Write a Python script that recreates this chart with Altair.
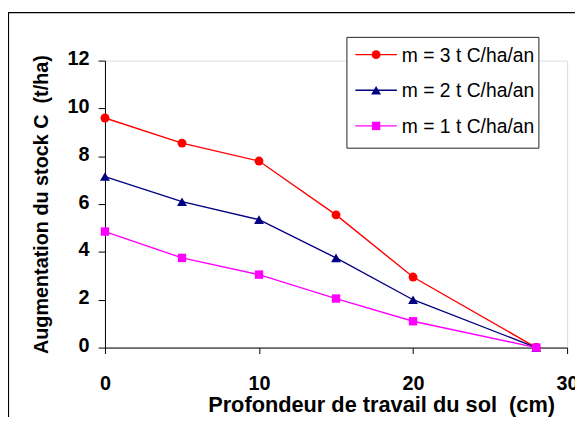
import altair as alt
import pandas as pd

# ---- data ----
depth = [0, 5, 10, 15, 20, 28]
m3 = [9.6, 8.55, 7.8, 5.55, 2.95, 0.0]
m2 = [7.15, 6.1, 5.35, 3.75, 2.0, 0.0]
m1 = [4.85, 3.75, 3.05, 2.05, 1.1, 0.0]
series = ["m = 3 t C/ha/an", "m = 2 t C/ha/an", "m = 1 t C/ha/an"]
colors = ["#FF0000", "#000080", "#FF00FF"]
marker_shapes = ["circle", "triangle-up", "square"]
marker_sizes = [81, 100, 72]
x_ticks = [0, 10, 20, 30]
y_ticks = [0, 2, 4, 6, 8, 10, 12]
x_title = "Profondeur de travail du sol\u00a0 (cm)"
y_title = "Augmentation du stock C\u00a0 (t/ha)"

rows = []
for name, vals in zip(series, [m3, m2, m1]):
    for d, v in zip(depth, vals):
        rows.append({"depth": d, "stock": v, "series": name})
df = pd.DataFrame(rows)

FONT = "Liberation Sans"
W, H = 467, 290

x_enc = alt.X(
    "depth:Q",
    scale=alt.Scale(domain=[0, 30], nice=False),
    axis=alt.Axis(
        values=x_ticks, title=x_title, grid=False,
        labelFont=FONT, labelFontSize=20, labelFontWeight="bold", labelColor="black",
        labelBaseline="alphabetic", labelPadding=36, labelFlush=False,
        tickSize=6, tickColor="black", domainColor="black",
        titleFont=FONT, titleFontSize=22, titleFontWeight="bold", titleColor="black",
        titleX=279, titleY=65, titleBaseline="alphabetic", titleAlign="center",
    ),
)
y_enc = alt.Y(
    "stock:Q",
    scale=alt.Scale(domain=[0, 12], nice=False),
    axis=alt.Axis(
        values=y_ticks, title=y_title, grid=False,
        labelFont=FONT, labelFontSize=20, labelFontWeight="bold", labelColor="black",
        labelPadding=9, labelOffset=-2, labelFlush=False,
        tickSize=7, tickColor="black", domainColor="black",
        titleFont=FONT, titleFontSize=20, titleFontWeight="bold", titleColor="black",
        titleX=-58, titleY=145, titleBaseline="alphabetic", titleAlign="center",
    ),
)

base = alt.Chart(df)
one = pd.DataFrame({"k": [0]})

# outer chart-area frame (left and top edges visible in the reference)
frame = alt.Chart(one).mark_rect(
    fillOpacity=0, stroke="black", strokeWidth=1.2
).encode(
    x=alt.value(-97.5), x2=alt.value(700), y=alt.value(-48.5), y2=alt.value(600)
)

lines = base.mark_line(strokeWidth=1.4).encode(
    x=x_enc, y=y_enc,
    color=alt.Color("series:N", scale=alt.Scale(domain=series, range=colors), legend=None),
)

point_layers = []
for name, col, shp, sz in zip(series, colors, marker_shapes, marker_sizes):
    point_layers.append(
        base.transform_filter(alt.datum.series == name)
        .mark_point(filled=True, shape=shp, size=sz, color=col, opacity=1)
        .encode(x=x_enc, y=y_enc)
    )

# legend box with line + marker samples and labels
legend_layers = [
    alt.Chart(one).mark_rect(fill="white", stroke="#222", strokeWidth=1).encode(
        x=alt.value(244.5), x2=alt.value(438.5), y=alt.value(-23.5), y2=alt.value(88.5)
    )
]
entry_y = [-6, 30, 66]
for name, col, shp, sz, yc in zip(series, colors, marker_shapes, marker_sizes, entry_y):
    legend_layers.append(
        alt.Chart(one).mark_rule(color=col, strokeWidth=1.4).encode(
            x=alt.value(253), x2=alt.value(295), y=alt.value(yc)
        )
    )
    legend_layers.append(
        alt.Chart(one).mark_point(filled=True, shape=shp, size=sz, color=col, opacity=1).encode(
            x=alt.value(274), y=alt.value(yc)
        )
    )
    legend_layers.append(
        alt.Chart(one).mark_text(
            text=name, font=FONT, fontSize=19.5, color="black",
            align="left", baseline="middle",
        ).encode(x=alt.value(300), y=alt.value(yc + 1))
    )

chart = alt.layer(frame, lines, *point_layers, *legend_layers).properties(
    width=W, height=H,
    autosize=alt.AutoSizeParams(type="none"),
    padding={"left": 98, "top": 51, "right": 8, "bottom": 68},
).configure_view(strokeWidth=0).configure(font=FONT)

chart.save("out.html", embed_options={"renderer": "svg", "actions": False})
